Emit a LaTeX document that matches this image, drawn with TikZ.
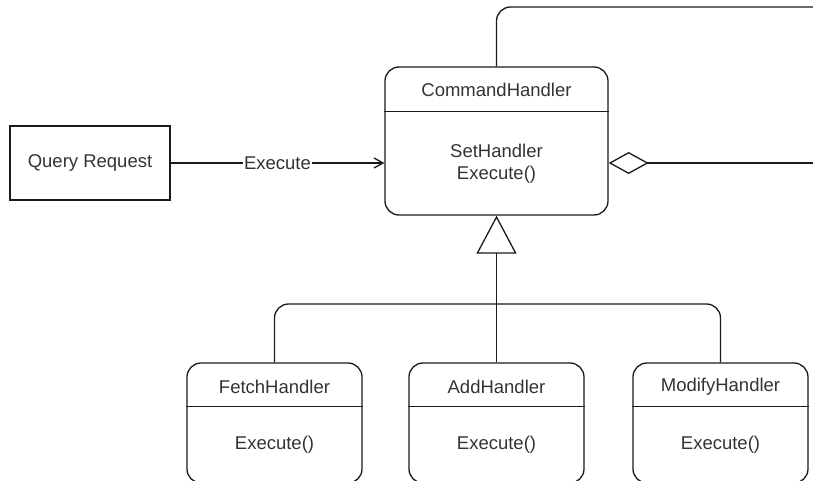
\documentclass[tikz,border=0pt]{standalone}
\usepackage{fontspec}
\setmainfont{Liberation Sans}
\usetikzlibrary{arrows.meta}
\definecolor{ink}{HTML}{1A1A1A}
\definecolor{txt}{HTML}{333333}

\begin{document}
\begin{tikzpicture}[x=1pt, y=-1pt, line width=1.3pt, draw=ink,
  every node/.style={font=\fontsize{18.5}{22}\selectfont, text=txt},
  umlbox/.style={draw=ink, rounded corners=14pt, inner sep=0pt},
  plainbox/.style={draw=ink, inner sep=0pt},
  lbl/.style={inner sep=0pt, align=center},
  link/.style={draw=ink, line width=1.3pt}]
\useasboundingbox (0,0) rectangle (813,481);
\begin{scope}
\clip (0,0) rectangle (813,481);

% client box
\node[plainbox, minimum width=160pt, minimum height=74pt] (query) at (90,163) {Query Request};

% abstract handler
\node[umlbox, minimum width=223pt, minimum height=148pt] (cmd) at (496.5,141) {};
\draw[link] ([yshift=-45pt]cmd.north west) -- ([yshift=-45pt]cmd.north east);
\node[lbl] (cmdTitle) at (496.5,90) {CommandHandler};
\node[lbl] (cmdBody) at (496.5,164) {SetHandler\\Execute()};

% concrete handlers
\foreach \nm/\cx/\ttl in {fetch/274.5/FetchHandler, add/496.5/AddHandler, modify/720.5/ModifyHandler}{
  \node[umlbox, minimum width=175pt, minimum height=120pt] (\nm) at (\cx,423) {};
  \draw[link] ([yshift=-44pt]\nm.north west) -- ([yshift=-44pt]\nm.north east);
  \node[lbl] (\nm Title) at (\cx,387) {\ttl};
  \node[lbl] (\nm Body) at (\cx,445) {Execute()};
}

% request -> handler
\draw[link, -{Straight Barb[length=9pt, width=10pt]}] (query.east) --
  node[fill=white, inner sep=1pt] (execLbl) {Execute} (cmd.west |- query.east);

% successor link leaving to the right
\coordinate (topEnd) at (830,7);
\coordinate (aggEnd) at (830,163);
\draw[link, rounded corners=14pt] (cmd.north) |- (topEnd);
\draw[link, {Diamond[open, length=40pt, width=22pt]}-] (cmd.east |- query.east) -- (aggEnd);

% inheritance tree
\coordinate (hub) at (496.5,304);
\draw[link, rounded corners=14pt] (fetch.north) |- (hub) -| (modify.north);
\draw[link, -{Triangle[open, length=38pt, width=40pt]}] (add.north) -- (cmd.south);
\end{scope}
\end{tikzpicture}
\end{document}
